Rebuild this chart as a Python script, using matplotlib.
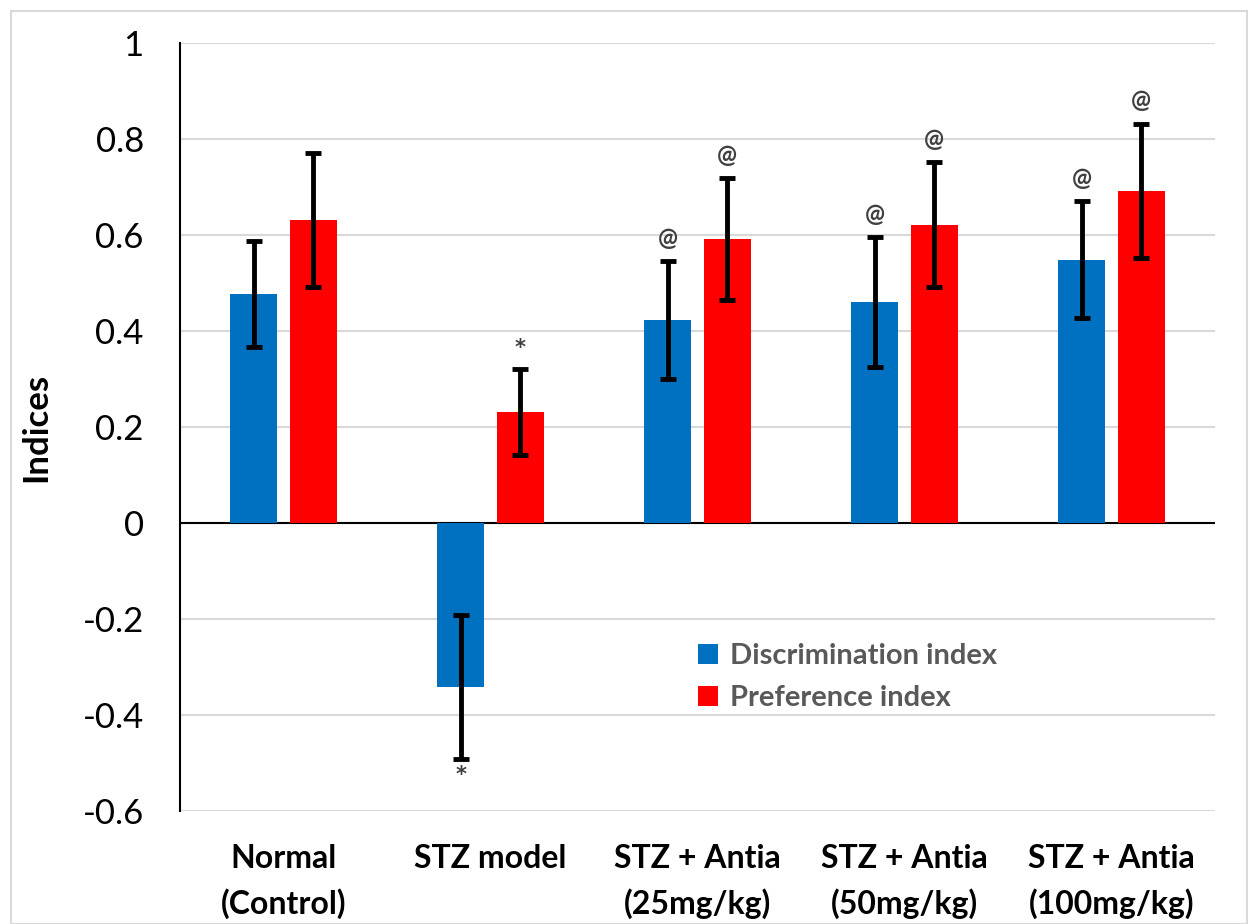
import numpy as np
import matplotlib
matplotlib.use('Agg')
import matplotlib.pyplot as plt
from matplotlib.patches import Rectangle

plt.rcParams['font.family'] = ['Lato', 'DejaVu Sans']

# Dados
groups = ['Normal\n(Control)', 'STZ model', 'STZ + Antia\n(25mg/kg)',
          'STZ + Antia\n(50mg/kg)', 'STZ + Antia\n(100mg/kg)']
disc = [0.477, -0.342, 0.423, 0.46, 0.548]
disc_err = [0.11, 0.15, 0.123, 0.135, 0.122]
pref = [0.631, 0.231, 0.592, 0.621, 0.692]
pref_err = [0.14, 0.09, 0.127, 0.13, 0.14]
disc_marks = ['', '*', '@', '@', '@']
pref_marks = ['', '*', '@', '@', '@']
yticks = [-0.6, -0.4, -0.2, 0, 0.2, 0.4, 0.6, 0.8, 1]
ytick_labels = ['-0.6', '-0.4', '-0.2', '0', '0.2', '0.4', '0.6', '0.8', '1']

blue = '#0070C0'
red = '#FF0000'

fig = plt.figure(figsize=(12.48, 9.24), dpi=100)
ax = fig.add_axes([0.1442, 0.1223, 0.8294, 0.8312])

# moldura do gráfico
fig.patches.append(Rectangle((0.009, 0.0), 0.99, 0.988, transform=fig.transFigure,
                             fill=False, edgecolor='#d9d9d9', linewidth=1.5))

x = np.arange(len(groups))
w = 0.227
off = 0.143
err_kw = dict(ecolor='black', elinewidth=3.5, capsize=6, capthick=3.5)

ax.bar(x - off, disc, w, color=blue, yerr=disc_err, error_kw=err_kw,
       label='Discrimination index', zorder=3)
ax.bar(x + off, pref, w, color=red, yerr=pref_err, error_kw=err_kw,
       label='Preference index', zorder=3)

# marcas de significância
for i in range(len(groups)):
    for xs, v, e, m in [(x[i] - off, disc[i], disc_err[i], disc_marks[i]),
                        (x[i] + off, pref[i], pref_err[i], pref_marks[i])]:
        if not m:
            continue
        if m == '@':
            kw = dict(fontsize=17)
        else:
            kw = dict(fontsize=15, family='DejaVu Sans')
        if v >= 0:
            ax.annotate(m, (xs, v + e), xytext=(0, 8), textcoords='offset points',
                        ha='center', va='bottom', color='#404040',
                        fontweight='bold', zorder=4, **kw)
        else:
            ax.annotate(m, (xs, v - e), xytext=(0, -4), textcoords='offset points',
                        ha='center', va='top', color='#404040',
                        fontweight='bold', zorder=4, **kw)

ax.set_xlim(-0.5, len(groups) - 0.5)
ax.set_ylim(-0.6, 1)
ax.set_yticks(yticks)
ax.set_yticklabels(ytick_labels, fontsize=25)
ax.set_xticks(x)
ax.set_xticklabels(groups, fontsize=23, fontweight='bold', linespacing=1.6)
ax.tick_params(axis='y', length=0, pad=26)
ax.tick_params(axis='x', length=0, pad=24)

ax.grid(axis='y', color='#d9d9d9', linewidth=1.5, zorder=0)
ax.axhline(0, color='black', linewidth=1.5, zorder=2)
for s in ['top', 'right', 'bottom']:
    ax.spines[s].set_visible(False)
ax.spines['left'].set_linewidth(1.5)
ax.spines['left'].set_zorder(2)

ax.set_ylabel('Indices', fontsize=25, fontweight='bold', labelpad=22)

leg = ax.legend(loc='lower left', bbox_to_anchor=(0.5, 0.13), frameon=False,
                fontsize=21, handlelength=0.7, handleheight=0.7,
                handletextpad=0.4, labelspacing=0.55, borderpad=0, borderaxespad=0)
for t in leg.get_texts():
    t.set_color('#595959')
    t.set_fontweight('bold')

plt.savefig('out.png', dpi=100)
